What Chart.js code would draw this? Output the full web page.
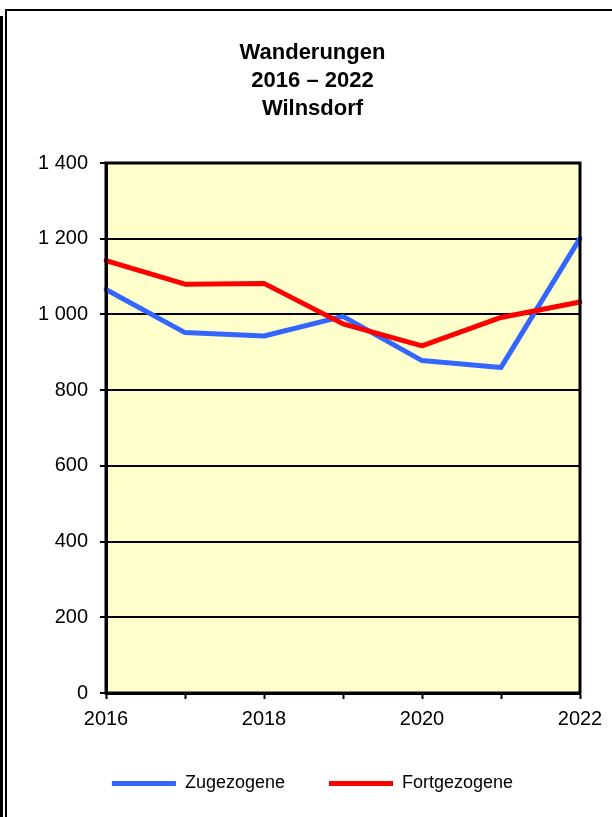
<!DOCTYPE html>
<html>
<head>
<meta charset="utf-8">
<script src="https://cdn.jsdelivr.net/npm/chart.js@4"></script>
<style>
    body { margin: 0; background: #fff; }
    #wrap { position: relative; width: 612px; height: 817px; overflow: hidden; }
    #chart { position: absolute; left: 0; top: 0; }
    .frame { position: absolute; background: #000; }
</style>
</head>
<body>
<div id="wrap">
    <div class="frame" style="left:0;top:16px;width:3px;height:801px;"></div>
    <div class="frame" style="left:5px;top:9px;width:2px;height:808px;"></div>
    <div class="frame" style="left:5px;top:9px;width:607px;height:2px;"></div>
    <canvas id="chart" width="612" height="817"></canvas>
</div>
<script>
// Chart data
const years = ['2016', '2017', '2018', '2019', '2020', '2021', '2022'];
const zugezogene = [1066, 952, 943, 995, 878, 860, 1201];
const fortgezogene = [1142, 1080, 1082, 975, 917, 992, 1033];
const titleLines = ['Wanderungen', '2016 \u2013 2022', 'Wilnsdorf'];
const seriesNames = ['Zugezogene', 'Fortgezogene'];
const seriesColors = ['#3366FF', '#FF0000'];

const FONT = "Arial, 'Liberation Sans', sans-serif";

// yellow plot background + frame round the plot area
const plotArea = {
    id: 'plotArea',
    beforeDraw(chart) {
        const { ctx, chartArea: a } = chart;
        ctx.save();
        ctx.fillStyle = '#FFFFCC';
        ctx.fillRect(a.left, a.top, a.right - a.left, a.bottom - a.top);
        ctx.restore();
    },
    afterDatasetsDraw(chart) {
        const { ctx, chartArea: a } = chart;
        ctx.save();
        ctx.strokeStyle = '#000';
        ctx.lineWidth = 3;
        ctx.strokeRect(a.left, a.top, a.right - a.left, a.bottom - a.top);
        ctx.restore();
    }
};

function formatThousands(v) {
    if (v >= 1000) return Math.floor(v / 1000) + ' ' + String(v % 1000).padStart(3, '0');
    return String(v);
}

new Chart(document.getElementById('chart'), {
    type: 'line',
    data: {
        labels: years,
        datasets: [
            {
                label: seriesNames[0],
                data: zugezogene,
                borderColor: seriesColors[0],
                backgroundColor: seriesColors[0],
                borderWidth: 5,
                borderCapStyle: 'round',
                borderJoinStyle: 'round',
                pointRadius: 0,
                tension: 0,
                order: 1
            },
            {
                label: seriesNames[1],
                data: fortgezogene,
                borderColor: seriesColors[1],
                backgroundColor: seriesColors[1],
                borderWidth: 5,
                borderCapStyle: 'round',
                borderJoinStyle: 'round',
                pointRadius: 0,
                tension: 0,
                order: 0
            }
        ]
    },
    options: {
        responsive: false,
        animation: false,
        layout: { padding: { left: 36, right: 23, top: 0, bottom: 14.5 } },
        plugins: {
            title: {
                display: true,
                text: titleLines,
                color: '#000',
                font: { family: FONT, size: 22, weight: 'bold', lineHeight: 28 / 22 },
                padding: { top: 39, bottom: 40 }
            },
            legend: {
                position: 'bottom',
                labels: {
                    usePointStyle: true,
                    pointStyle: 'line',
                    pointStyleWidth: 64,
                    padding: 44,
                    color: '#000',
                    font: { family: FONT, size: 18 },
                    sort: (a, b) => a.datasetIndex - b.datasetIndex
                }
            },
            tooltip: { enabled: false }
        },
        scales: {
            x: {
                offset: false,
                grid: {
                    drawOnChartArea: false,
                    drawTicks: true,
                    tickLength: 6,
                    tickColor: '#000',
                    tickWidth: 2,
                    color: '#000'
                },
                border: { display: true, color: '#000', width: 3 },
                ticks: {
                    color: '#000',
                    font: { family: FONT, size: 20 },
                    padding: 8,
                    maxRotation: 0,
                    autoSkip: false,
                    callback: (v, i) => (i % 2 === 0 ? years[i] : '')
                },
                afterFit: s => { s.height = 37.5; }
            },
            y: {
                min: 0,
                max: 1400,
                grid: {
                    color: '#000',
                    lineWidth: 2,
                    tickLength: 6,
                    tickColor: '#000',
                    tickWidth: 2
                },
                border: { display: true, color: '#000', width: 3 },
                ticks: {
                    stepSize: 200,
                    color: '#000',
                    font: { family: FONT, size: 20 },
                    padding: 12,
                    callback: v => formatThousands(v)
                },
                afterFit: s => { s.width = 70; }
            },
            // empty spacer on the right so title and legend sit where the original has them
            yRight: {
                position: 'right',
                display: true,
                grid: { display: false },
                border: { display: false },
                ticks: { display: false },
                afterFit: s => { s.width = 9; }
            }
        }
    },
    plugins: [plotArea]
});
</script>
</body>
</html>
